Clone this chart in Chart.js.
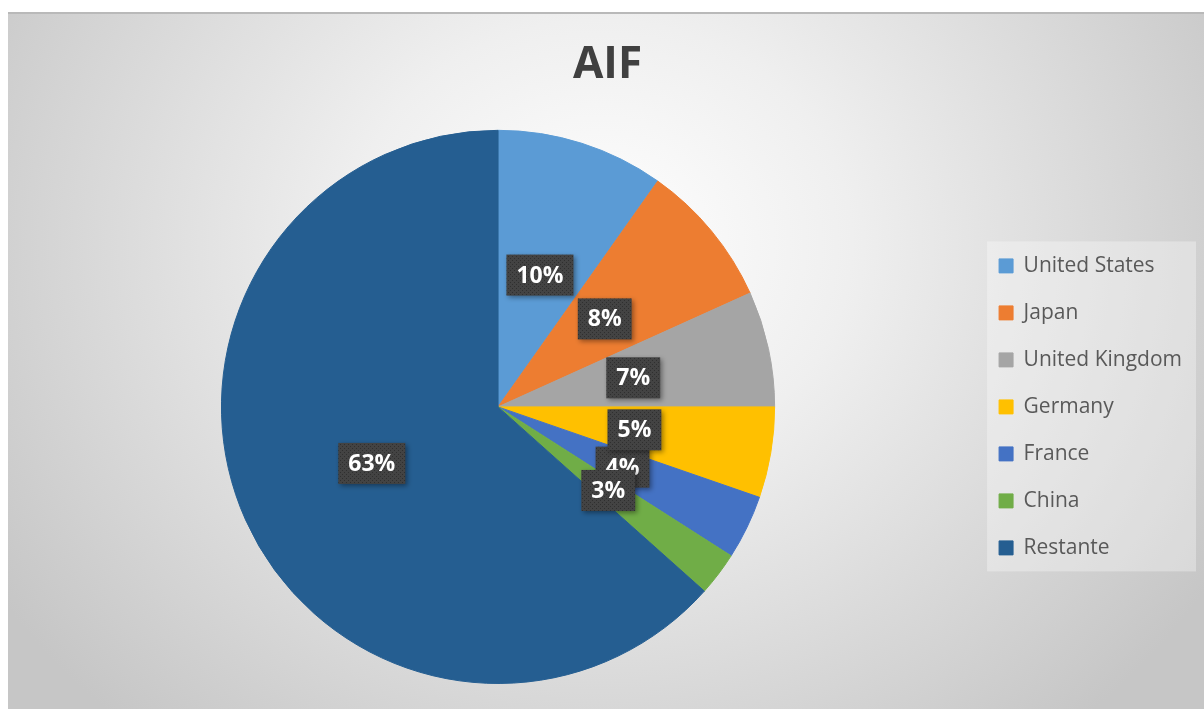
<!DOCTYPE html>
<html>
<head>
<meta charset="utf-8">
<title>AIF</title>
<script src="https://cdn.jsdelivr.net/npm/chart.js@4.4.1/dist/chart.umd.min.js"></script>
<style>
  html, body { margin: 0; padding: 0; background: #fff; }
  body { width: 1204px; height: 709px; position: relative; overflow: hidden; }
  #frame {
    position: absolute; left: 8px; top: 12px; width: 1196px; height: 697px;
    box-sizing: border-box; border-top: 2px solid #b9b9b9;
    background: radial-gradient(ellipse 720px 640px at 592px 230px, #ffffff 0%, #efefef 35%, #c6c6c6 100%);
  }
  #chart { position: absolute; left: 0; top: 0; }
</style>
</head>
<body>
<div id="frame"></div>
<canvas id="chart" width="1204" height="709"></canvas>
<script>
// data (share of AIF, %)
const countries = ['United States', 'Japan', 'United Kingdom', 'Germany', 'France', 'China', 'Restante'];
const shares = [9.8, 8.45, 6.75, 5.3, 3.75, 2.55, 63.4];
const sliceColors = ['#5B9BD5', '#ED7D31', '#A5A5A5', '#FFC000', '#4472C4', '#70AD47', '#255E91'];
// France label sits under its neighbours in the original
const labelOrder = [4, 0, 1, 2, 3, 5, 6];

Chart.defaults.font.family = '"Open Sans", "Noto Sans", sans-serif';

// dark dotted fill for the data label boxes
function makePattern() {
    var c = document.createElement('canvas');
    c.width = 4; c.height = 4;
    var p = c.getContext('2d');
    p.fillStyle = '#434343';
    p.fillRect(0, 0, 4, 4);
    p.fillStyle = '#2f2f2f';
    p.fillRect(0, 0, 1, 1);
    p.fillRect(2, 2, 1, 1);
    return p.createPattern(c, 'repeat');
}

const legendPanel = {
    id: 'legendPanel',
    beforeDraw: function(chart) {
        var lg = chart.legend;
        var boxes = lg.legendHitBoxes;
        if (!boxes || !boxes.length) return;
        var first = boxes[0], last = boxes[boxes.length - 1];
        var x = first.left - 12;
        var y = first.top - 14;
        var ctx = chart.ctx;
        ctx.save();
        ctx.fillStyle = 'rgba(255,255,255,0.32)';
        ctx.fillRect(x, y, lg.right + 4 - x, last.top + last.height + 13 - y);
        ctx.restore();
    }
};

const labelBoxes = {
    id: 'labelBoxes',
    afterDatasetsDraw: function(chart) {
        var ctx = chart.ctx;
        var meta = chart.getDatasetMeta(0);
        var total = shares.reduce(function(a, b) { return a + b; }, 0);
        var pattern = makePattern();
        ctx.save();
        ctx.font = 'bold 23px "Open Sans"';
        ctx.textAlign = 'center';
        ctx.textBaseline = 'middle';
        labelOrder.forEach(function(i) {
            var pos = meta.data[i].tooltipPosition();
            var text = Math.round(shares[i] / total * 100) + '%';
            var w = ctx.measureText(text).width + 20;
            var h = 41;
            ctx.shadowColor = 'rgba(0,0,0,0.4)';
            ctx.shadowBlur = 5;
            ctx.shadowOffsetX = 2;
            ctx.shadowOffsetY = 2;
            ctx.fillStyle = pattern;
            ctx.fillRect(pos.x - w / 2, pos.y - h / 2, w, h);
            ctx.shadowColor = 'transparent';
            ctx.fillStyle = '#ffffff';
            ctx.fillText(text, pos.x, pos.y + 1);
        });
        ctx.restore();
    }
};

var ctx = document.getElementById('chart').getContext('2d');
window.aifPie = new Chart(ctx, {
    type: 'pie',
    data: {
        labels: countries,
        datasets: [{
            data: shares,
            backgroundColor: sliceColors,
            borderColor: sliceColors,
            borderWidth: 1
        }]
    },
    options: {
        responsive: false,
        animation: false,
        events: [],
        layout: {
            padding: { left: 23, right: 12, top: 12, bottom: 25 }
        },
        plugins: {
            title: {
                display: true,
                text: 'AIF',
                color: '#404040',
                font: { size: 44, weight: 'bold' },
                padding: { top: 27, bottom: 38 }
            },
            legend: {
                position: 'right',
                align: 'center',
                fullSize: false,
                labels: {
                    color: '#595959',
                    font: { size: 21 },
                    boxWidth: 14,
                    boxHeight: 14,
                    padding: 26
                }
            },
            tooltip: { enabled: false }
        }
    },
    plugins: [legendPanel, labelBoxes]
});
</script>
</body>
</html>
